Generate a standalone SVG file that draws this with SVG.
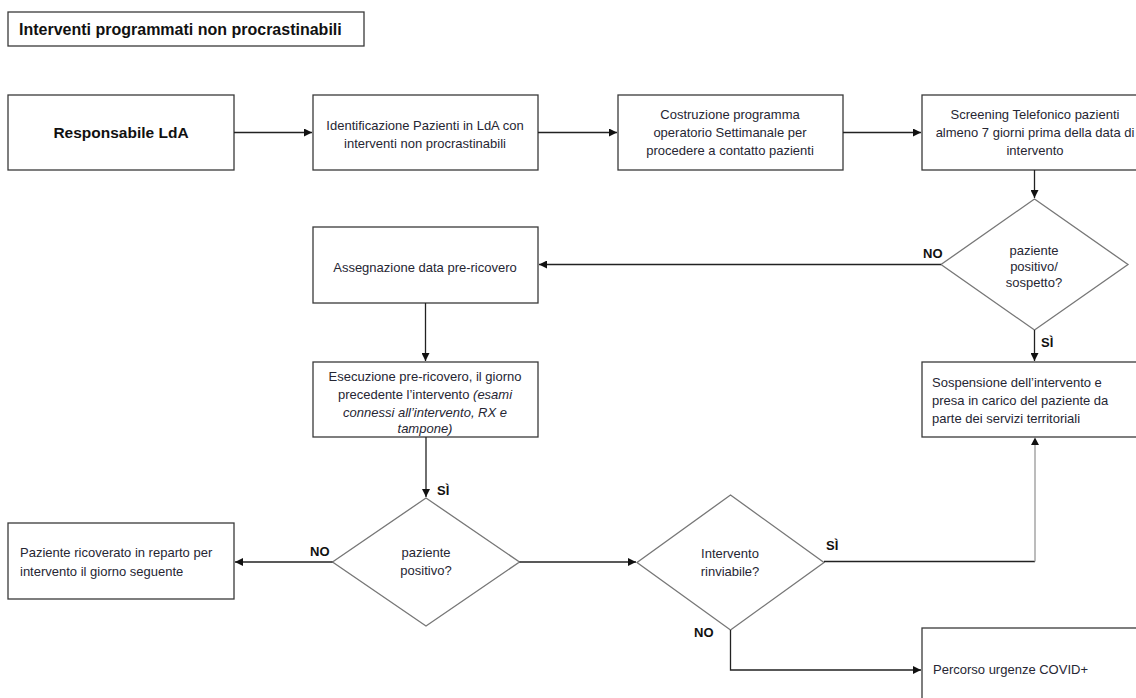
<svg xmlns="http://www.w3.org/2000/svg" width="1136" height="698" viewBox="0 0 1136 698">
<defs>
<style>
.box{fill:#fff;stroke:#3a3a3a;stroke-width:1.3}
.dia{fill:#fff;stroke:#777;stroke-width:1.3}
.t{font-family:"Liberation Sans",Arial,sans-serif;font-size:13px;fill:#262633}
.c{text-anchor:middle}
.b{font-family:"Liberation Sans",Arial,sans-serif;font-weight:bold;fill:#111}
.lbl{font-family:"Liberation Sans",Arial,sans-serif;font-weight:bold;font-size:13px;fill:#111}
.con{fill:none;stroke:#222;stroke-width:1.3}
.gray{fill:none;stroke:#a6a6a6;stroke-width:1.5}
</style>
<marker id="ah" viewBox="0 0 10 10" refX="10" refY="5" markerWidth="8" markerHeight="8" markerUnits="userSpaceOnUse" orient="auto">
<path d="M0,0 L10,5 L0,10 z" fill="#111"/>
</marker>
</defs>
<rect width="1136" height="698" fill="#fff"/>

<g id="title">
<rect class="box" x="8" y="12" width="356" height="34"/>
<text class="b" x="19" y="35" font-size="16">Interventi programmati non procrastinabili</text>
</g>

<g id="responsabile">
<rect class="box" x="8" y="95" width="226" height="75"/>
<text class="b c" x="121" y="138" font-size="15.5">Responsabile LdA</text>
</g>

<g id="identificazione">
<rect class="box" x="313" y="95" width="225" height="75"/>
<text class="t c" x="425" y="130">Identificazione Pazienti in LdA con</text>
<text class="t c" x="425" y="148">interventi non procrastinabili</text>
</g>

<g id="costruzione">
<rect class="box" x="618" y="95" width="225" height="75"/>
<text class="t c" x="730" y="119">Costruzione programma</text>
<text class="t c" x="730" y="137">operatorio Settimanale per</text>
<text class="t c" x="730" y="155">procedere a contatto pazienti</text>
</g>

<g id="screening">
<rect class="box" x="922" y="95" width="230" height="75"/>
<text class="t c" x="1035" y="119">Screening Telefonico pazienti</text>
<text class="t c" x="1035" y="137">almeno 7 giorni prima della data di</text>
<text class="t c" x="1035" y="155">intervento</text>
</g>

<g id="dec-sospetto">
<polygon class="dia" points="1034.5,199 1128,264.5 1034.5,330 941,264.5"/>
<text class="t c" x="1034" y="255">paziente</text>
<text class="t c" x="1034" y="271">positivo/</text>
<text class="t c" x="1034" y="287">sospetto?</text>
</g>

<g id="assegnazione">
<rect class="box" x="313" y="227" width="225" height="76"/>
<text class="t c" x="425" y="272">Assegnazione data pre-ricovero</text>
</g>

<g id="esecuzione">
<rect class="box" x="313" y="362" width="225" height="75"/>
<text class="t c" x="425" y="381">Esecuzione pre-ricovero, il giorno</text>
<text class="t c" x="425" y="399">precedente l’intervento <tspan font-style="italic">(esami</tspan></text>
<text class="t c" x="425" y="417" font-style="italic">connessi all’intervento, RX e</text>
<text class="t c" x="425" y="433" font-style="italic">tampone)</text>
</g>

<g id="sospensione">
<rect class="box" x="922" y="362" width="230" height="75"/>
<text class="t" x="932" y="387">Sospensione dell’intervento e</text>
<text class="t" x="932" y="405">presa in carico del paziente da</text>
<text class="t" x="932" y="423">parte dei servizi territoriali</text>
</g>

<g id="dec-positivo">
<polygon class="dia" points="426,498 519.5,562 426,626 332.5,562"/>
<text class="t c" x="426" y="557">paziente</text>
<text class="t c" x="426" y="575">positivo?</text>
</g>

<g id="ricoverato">
<rect class="box" x="8" y="523" width="226" height="76"/>
<text class="t" x="20" y="557">Paziente ricoverato in reparto per</text>
<text class="t" x="20" y="576">intervento il giorno seguente</text>
</g>

<g id="dec-rinviabile">
<polygon class="dia" points="730.5,495 824,562.5 730.5,630 637,562.5"/>
<text class="t c" x="730" y="558">Intervento</text>
<text class="t c" x="730" y="576">rinviabile?</text>
</g>

<g id="percorso">
<rect class="box" x="922" y="628" width="230" height="90"/>
<text class="t" x="933" y="674">Percorso urgenze COVID+</text>
</g>

<g id="connectors">
<line class="con" x1="234" y1="132.5" x2="312" y2="132.5" marker-end="url(#ah)"/>
<line class="con" x1="538" y1="132.5" x2="617" y2="132.5" marker-end="url(#ah)"/>
<line class="con" x1="843" y1="132.5" x2="921" y2="132.5" marker-end="url(#ah)"/>
<line class="con" x1="1034.5" y1="170" x2="1034.5" y2="198" marker-end="url(#ah)"/>
<line class="con" x1="941" y1="264.5" x2="539" y2="264.5" marker-end="url(#ah)"/>
<line class="con" x1="1034.5" y1="330" x2="1034.5" y2="361" marker-end="url(#ah)"/>
<line class="con" x1="425.5" y1="303" x2="425.5" y2="361" marker-end="url(#ah)"/>
<line class="con" x1="426" y1="437" x2="426" y2="497" marker-end="url(#ah)"/>
<line class="con" x1="332.5" y1="562" x2="235" y2="562" marker-end="url(#ah)"/>
<line class="con" x1="519.5" y1="562" x2="636" y2="562" marker-end="url(#ah)"/>
<polyline class="con" points="824,561.5 1035,561.5"/>
<line class="gray" x1="1035" y1="561.5" x2="1035" y2="439"/>
<path d="M1035,437.5 L1031,445 L1039,445 z" fill="#111"/>
<polyline class="con" points="730.5,630 730.5,670 921,670" marker-end="url(#ah)"/>
</g>

<g id="labels">
<text class="lbl" x="923" y="258">NO</text>
<text class="lbl" x="1041" y="347">SÌ</text>
<text class="lbl" x="437" y="495">SÌ</text>
<text class="lbl" x="310" y="556">NO</text>
<text class="lbl" x="826" y="550">SÌ</text>
<text class="lbl" x="694" y="637">NO</text>
</g>
</svg>
